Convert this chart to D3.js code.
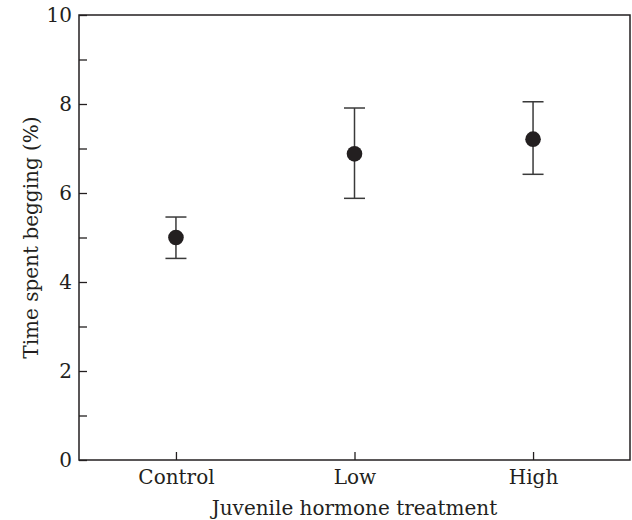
<!DOCTYPE html>
<html><head><meta charset="utf-8">
<script src="https://cdn.jsdelivr.net/npm/d3@7"></script>
<style>body{margin:0;background:#fff}svg text{font-family:"DejaVu Serif",serif;fill:#231f20}</style>
</head><body>
<svg id="c" width="632" height="520"></svg>
<script>
const categories = ["Control", "Low", "High"];
const means = [5.0, 6.88, 7.21];
const upper = [5.46, 7.91, 8.05];
const lower = [4.53, 5.88, 6.42];
const yTicks = [0, 2, 4, 6, 8, 10];
const yMinorTicks = [1, 3, 5, 7, 9];

const svg = d3.select("#c");
const L = 79, R = 630, T = 15, B = 460;
const x = d3.scalePoint().domain(categories).range([L, R]).padding(0.543);
const y = d3.scaleLinear().domain([0, 10]).range([B, T]);
const ink = "#231f20";

// frame
svg.append("rect").attr("x", L).attr("y", T).attr("width", R - L).attr("height", B - T)
  .attr("fill", "none").attr("stroke", ink).attr("stroke-width", 1.5);

// y axis
const yAxis = svg.append("g").attr("transform", `translate(${L},0)`)
  .call(d3.axisLeft(y).tickValues(yTicks).tickSize(-8).tickPadding(7).tickFormat(d3.format("d")));
yAxis.select(".domain").remove();
yAxis.selectAll("line").attr("stroke", ink).attr("stroke-width", 1.3);
yAxis.selectAll("text").attr("font-size", 20).attr("font-family", "DejaVu Serif").attr("fill", ink);
const yMinor = svg.append("g").attr("transform", `translate(${L},0)`)
  .call(d3.axisLeft(y).tickValues(yMinorTicks).tickSize(-8).tickFormat(""));
yMinor.select(".domain").remove();
yMinor.selectAll("line").attr("stroke", ink).attr("stroke-width", 1.3);

// x axis
const xAxis = svg.append("g").attr("transform", `translate(0,${B})`)
  .call(d3.axisBottom(x).tickSize(-8).tickPadding(10));
xAxis.select(".domain").remove();
xAxis.selectAll("line").attr("stroke", ink).attr("stroke-width", 1.3);
xAxis.selectAll("text").attr("font-size", 20).attr("font-family", "DejaVu Serif").attr("fill", ink);

// error bars
const g = svg.append("g");
categories.forEach((c, i) => {
  const cx = x(c);
  g.append("line").attr("x1", cx).attr("x2", cx).attr("y1", y(upper[i])).attr("y2", y(lower[i]))
    .attr("stroke", "#3a3a3a").attr("stroke-width", 1.5);
  [upper[i], lower[i]].forEach(v => {
    g.append("line").attr("x1", cx - 10.5).attr("x2", cx + 10.5).attr("y1", y(v)).attr("y2", y(v))
      .attr("stroke", "#3a3a3a").attr("stroke-width", 1.5);
  });
  g.append("circle").attr("cx", cx).attr("cy", y(means[i])).attr("r", 7.8).attr("fill", ink);
});

// axis titles
svg.append("text").attr("x", (L + R) / 2).attr("y", 515).attr("text-anchor", "middle")
  .attr("font-size", 20).text("Juvenile hormone treatment");
svg.append("text").attr("transform", `translate(38,${(T + B) / 2}) rotate(-90)`).attr("text-anchor", "middle")
  .attr("font-size", 20).text("Time spent begging (%)");
</script>
</body></html>
